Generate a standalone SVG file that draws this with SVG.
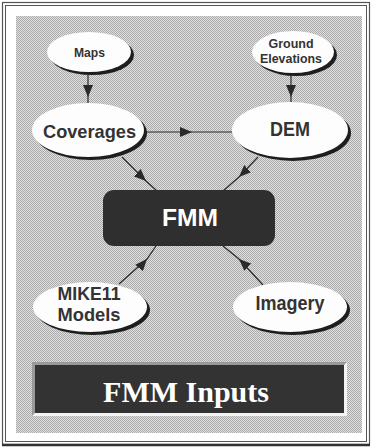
<svg xmlns="http://www.w3.org/2000/svg" width="372" height="448" viewBox="0 0 372 448">
<defs>
<pattern id="dots" width="2" height="2" patternUnits="userSpaceOnUse">
<rect width="2" height="2" fill="#e0e0e0"/>
<rect width="1" height="1" fill="#aaaaaa"/>
<rect x="1" y="1" width="1" height="1" fill="#aaaaaa"/>
</pattern>
<marker id="ah" viewBox="0 0 12 10" refX="12" refY="5" markerWidth="12" markerHeight="10" markerUnits="userSpaceOnUse" orient="auto">
<path d="M0,0 L12,5 L0,10 Z" fill="#2a2a2a"/>
</marker>
<style>
.frame{fill:none;stroke:#555;}
.shadow{fill:#1e1e1e;}
.oval{fill:#fdfdfd;}
.lbl{font-family:"Liberation Sans",Arial,sans-serif;font-weight:bold;fill:#333;text-anchor:middle;}
.conn{fill:none;stroke:#2a2a2a;stroke-width:1.2;marker-mid:url(#ah);}
.box{fill:#2f2f2f;}
.white{font-family:"Liberation Sans",Arial,sans-serif;font-weight:bold;fill:#fff;text-anchor:middle;}
.title{font-family:"Liberation Serif","Times New Roman",serif;font-weight:bold;fill:#fff;text-anchor:middle;}
</style>
</defs>
<rect x="0" y="0" width="372" height="448" fill="#fff"/>
<rect class="frame" x="2.5" y="2.5" width="367" height="442" stroke-width="1.2"/>
<rect class="frame" x="5.5" y="5.5" width="361" height="436" stroke="#999" stroke-width="1"/>
<line x1="2" y1="445" x2="370" y2="445" stroke="#333" stroke-width="2.5"/>
<rect x="16" y="16" width="346" height="417" fill="url(#dots)"/>

<g id="connectors">
<polyline class="conn" points="88,75 88,97 88,104"/>
<polyline class="conn" points="291,74 291,97 291,103"/>
<polyline class="conn" points="146,132 192,132 232,132"/>
<polyline class="conn" points="122,157 146,181 157,191"/>
<polyline class="conn" points="258,157 239,177 223,191"/>
<polyline class="conn" points="119,284 147,259 156,246"/>
<polyline class="conn" points="263,285 239,259 223,246"/>
</g>

<g id="maps">
<ellipse class="shadow" cx="92" cy="55" rx="42" ry="20"/>
<ellipse class="oval" cx="89" cy="52" rx="42" ry="20"/>
<text class="lbl" x="89.5" y="57" font-size="12.5" textLength="31" lengthAdjust="spacingAndGlyphs">Maps</text>
</g>

<g id="ground-elevations">
<ellipse class="shadow" cx="296" cy="55" rx="41" ry="21"/>
<ellipse class="oval" cx="293" cy="52" rx="41" ry="21"/>
<text class="lbl" x="291" y="48" font-size="12.5" textLength="45" lengthAdjust="spacingAndGlyphs">Ground</text>
<text class="lbl" x="291" y="63" font-size="12.5" textLength="62" lengthAdjust="spacingAndGlyphs">Elevations</text>
</g>

<g id="coverages">
<ellipse class="shadow" cx="91" cy="133" rx="56" ry="27"/>
<ellipse class="oval" cx="88" cy="130" rx="56" ry="27"/>
<text class="lbl" x="89.5" y="138" font-size="19" textLength="93" lengthAdjust="spacingAndGlyphs">Coverages</text>
</g>

<g id="dem">
<ellipse class="shadow" cx="293" cy="133" rx="58" ry="28"/>
<ellipse class="oval" cx="290" cy="130" rx="58" ry="28"/>
<text class="lbl" x="290" y="136" font-size="21" textLength="40" lengthAdjust="spacingAndGlyphs">DEM</text>
</g>

<g id="fmm">
<rect class="box" x="103" y="190" width="172" height="56" rx="11"/>
<text class="white" x="190" y="226" font-size="24" textLength="56" lengthAdjust="spacingAndGlyphs">FMM</text>
</g>

<g id="mike11-models">
<ellipse class="shadow" cx="93" cy="310" rx="57" ry="25"/>
<ellipse class="oval" cx="90" cy="307" rx="57" ry="25"/>
<text class="lbl" x="89" y="300" font-size="18.5" textLength="63" lengthAdjust="spacingAndGlyphs">MIKE11</text>
<text class="lbl" x="89" y="321" font-size="18.5" textLength="63" lengthAdjust="spacingAndGlyphs">Models</text>
</g>

<g id="imagery">
<ellipse class="shadow" cx="293" cy="310" rx="57" ry="25"/>
<ellipse class="oval" cx="290" cy="307" rx="57" ry="25"/>
<text class="lbl" x="290" y="310" font-size="20" textLength="69" lengthAdjust="spacingAndGlyphs">Imagery</text>
</g>

<g id="title">
<rect x="32" y="362" width="315" height="54" fill="#f4f4f4"/>
<path d="M32,362 H347 L344,365 H35 V413 L32,416 Z" fill="#9a9a9a"/>
<rect x="35" y="365" width="309" height="48" fill="#333"/>
<text class="title" x="186" y="402" font-size="30">FMM Inputs</text>
</g>
</svg>
